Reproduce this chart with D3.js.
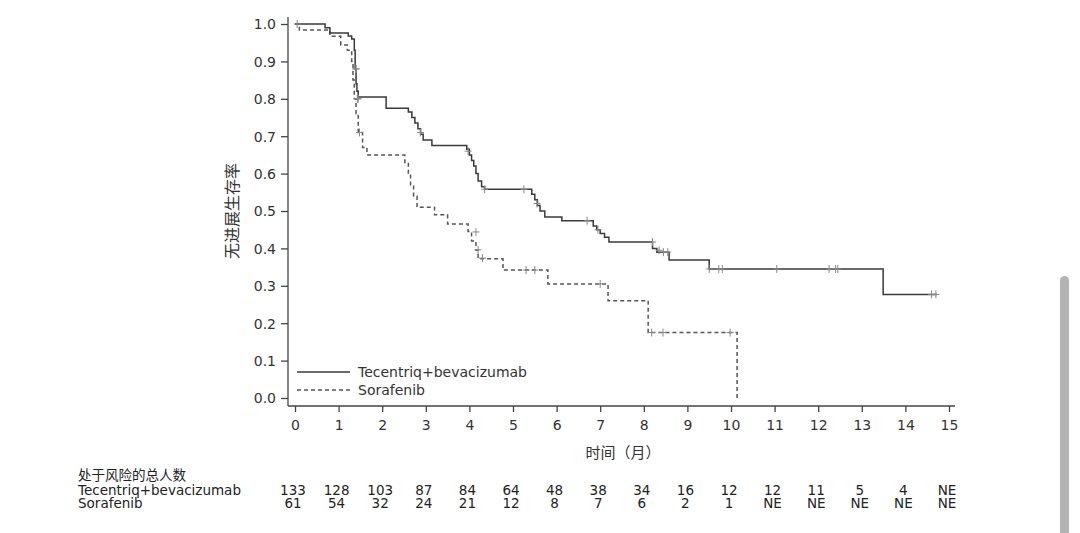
<!DOCTYPE html>
<html><head><meta charset="utf-8">
<script src="https://cdn.jsdelivr.net/npm/d3@7"></script>
<style>body{margin:0;background:#fff;overflow:hidden}svg{display:block}</style>
</head><body>
<svg id="c" width="1080" height="533"></svg>
<script>
// ---- Data ----
const seriesNames = ["Tecentriq+bevacizumab", "Sorafenib"];
const tecTimes = [0,0.69,0.8,1.22,1.3,1.36,1.38,1.40,1.42,1.45,2.09,2.6,2.68,2.75,2.82,2.88,2.94,3.14,3.94,4.0,4.05,4.1,4.15,4.2,4.28,4.35,5.43,5.5,5.56,5.62,5.73,6.12,6.84,6.92,7.0,7.1,7.2,8.2,8.3,8.58,9.5,13.49,14.72];
const tecSurv  = [1.0,0.99,0.976,0.968,0.96,0.93,0.88,0.84,0.82,0.805,0.775,0.765,0.75,0.735,0.72,0.705,0.69,0.675,0.665,0.65,0.635,0.62,0.60,0.58,0.565,0.558,0.545,0.53,0.515,0.50,0.484,0.474,0.46,0.45,0.44,0.43,0.417,0.40,0.39,0.369,0.345,0.277,0.277];
const sorTimes = [0,0.1,0.8,1.05,1.2,1.3,1.33,1.36,1.4,1.45,1.55,1.65,2.52,2.6,2.65,2.72,2.8,3.2,3.5,3.97,4.05,4.15,4.2,4.77,5.8,7.18,8.1,10.14];
const sorSurv  = [1.0,0.984,0.967,0.944,0.93,0.90,0.85,0.80,0.76,0.71,0.67,0.65,0.63,0.60,0.57,0.54,0.51,0.49,0.465,0.445,0.42,0.395,0.372,0.342,0.305,0.26,0.175,0.0];
const tecCensT = [0.05,1.4,1.45,2.88,3.97,4.35,5.25,5.55,6.7,6.95,8.2,8.35,8.45,8.55,9.5,9.72,9.8,11.05,12.25,12.4,12.45,14.6,14.7];
const tecCensS = [1.0,0.88,0.80,0.71,0.66,0.558,0.558,0.52,0.474,0.45,0.417,0.395,0.39,0.39,0.345,0.345,0.345,0.345,0.345,0.345,0.345,0.277,0.277];
const sorCensT = [1.4,1.43,1.48,4.15,4.2,4.3,5.3,5.5,7.0,8.18,8.44,9.98];
const sorCensS = [0.88,0.80,0.71,0.444,0.396,0.374,0.342,0.342,0.305,0.175,0.175,0.175];
const xTicks = d3.range(0,16);
const yTicks = [0,0.1,0.2,0.3,0.4,0.5,0.6,0.7,0.8,0.9,1.0];
const riskTimes = d3.range(0,16);
const riskTec = ["133","128","103","87","84","64","48","38","34","16","12","12","11","5","4","NE"];
const riskSor = ["61","54","32","24","21","12","8","7","6","2","1","NE","NE","NE","NE","NE"];
const yTitle = "无进展生存率";
const xTitle = "时间（月）";
const riskTitle = "处于风险的总人数";

// ---- Drawing ----
const svg = d3.select("#c");
const font = "'DejaVu Sans', Verdana, sans-serif";
const cjk = "'Noto Sans CJK SC', sans-serif";
const x = d3.scaleLinear().domain([0,15]).range([295,949]);
const y = d3.scaleLinear().domain([0,1]).range([398,24]);
const axisColor = "#444";

// y axis
const yAx = svg.append("g").attr("transform","translate(288,0)")
  .call(d3.axisLeft(y).tickValues(yTicks).tickFormat(d3.format(".1f")).tickSize(7).tickSizeOuter(0));
yAx.select(".domain").attr("d","M0,17V406");
// x axis
const xAx = svg.append("g").attr("transform","translate(0,406)")
  .call(d3.axisBottom(x).tickValues(xTicks).tickFormat(d3.format("d")).tickSize(6).tickSizeOuter(0));
xAx.select(".domain").attr("d","M288,0H955");
[yAx,xAx].forEach(g=>{
  g.selectAll("path,line").attr("stroke",axisColor).attr("stroke-width",1.3);
  g.selectAll("text").attr("fill","#333").style("font-family",font).style("font-size","14px");
});
yAx.selectAll("text").attr("x",-12).attr("dy","0.35em");
xAx.selectAll("text").attr("y",14);

// titles
svg.append("text").attr("transform","translate(238,211) rotate(-90)").attr("text-anchor","middle")
  .style("font-family",cjk).style("font-size","16px").attr("fill","#333").text(yTitle);
svg.append("text").attr("x",623).attr("y",458).attr("text-anchor","middle")
  .style("font-family",cjk).style("font-size","15px").attr("fill","#333").text(xTitle);

// curves
const line = d3.line().x(d=>x(d[0])).y(d=>y(d[1])).curve(d3.curveStepAfter);
const tecPts = tecTimes.map((t,i)=>[t,tecSurv[i]]);
const sorPts = sorTimes.map((t,i)=>[t,sorSurv[i]]);
svg.append("path").attr("d",line(sorPts)).attr("fill","none").attr("stroke","#555")
  .attr("stroke-width",1.5).attr("stroke-dasharray","4,3");
svg.append("path").attr("d",line(tecPts)).attr("fill","none").attr("stroke","#3a3a3a").attr("stroke-width",1.5);

// censor marks
function censor(ts, ss, col){
  const g = svg.append("g").attr("stroke",col).attr("stroke-width",1);
  ts.forEach((t,i)=>{
    const cx = x(t), cy = y(ss[i]);
    g.append("line").attr("x1",cx).attr("x2",cx).attr("y1",cy-4).attr("y2",cy+4);
    g.append("line").attr("x1",cx-3.5).attr("x2",cx+3.5).attr("y1",cy).attr("y2",cy);
  });
}
censor(tecCensT, tecCensS, "#888");
censor(sorCensT, sorCensS, "#888");

// legend
const lg = svg.append("g");
lg.append("line").attr("x1",297).attr("x2",350).attr("y1",372).attr("y2",372).attr("stroke","#3a3a3a").attr("stroke-width",1.5);
lg.append("line").attr("x1",297).attr("x2",350).attr("y1",390).attr("y2",390).attr("stroke","#555").attr("stroke-width",1.5).attr("stroke-dasharray","4,3");
lg.append("text").attr("x",358).attr("y",377).text(seriesNames[0]);
lg.append("text").attr("x",358).attr("y",395).text(seriesNames[1]);
lg.selectAll("text").style("font-family",font).style("font-size","14px").attr("fill","#333");

// risk table
const rt = svg.append("g").style("font-family",font).attr("fill","#222");
rt.append("text").attr("x",78).attr("y",480).style("font-family",cjk).style("font-size","13.5px").text(riskTitle);
rt.append("text").attr("x",78).attr("y",495).style("font-size","13.5px").text(seriesNames[0]);
rt.append("text").attr("x",78).attr("y",508).style("font-size","13.5px").text(seriesNames[1]);
riskTimes.forEach((t,i)=>{
  rt.append("text").attr("x",x(t)-2).attr("y",495).attr("text-anchor","middle").style("font-size","13.5px").text(riskTec[i]);
  rt.append("text").attr("x",x(t)-2).attr("y",508).attr("text-anchor","middle").style("font-size","13.5px").text(riskSor[i]);
});

// scrollbar (page chrome)
svg.append("rect").attr("x",1060).attr("y",276).attr("width",9).attr("height",270).attr("rx",4.5).attr("fill","#b3b3b3");
</script>
</body></html>
